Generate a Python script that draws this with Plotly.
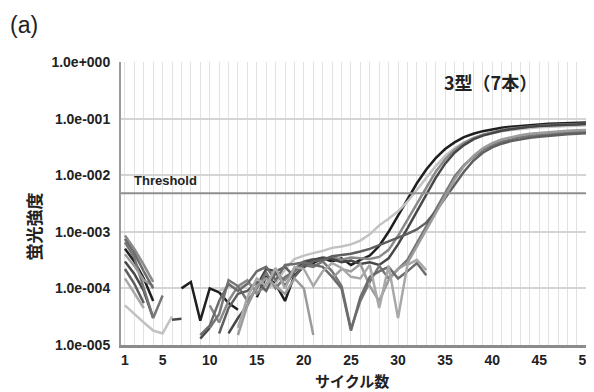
import math
import plotly.graph_objects as go

N = None
cycles = list(range(1, 51))

# fluorescence values per tube (None = value not shown on log scale)
tube_a = [5.0e-4, 3.0e-4, 1.5e-4, 6e-5, N, N, 1.0e-4, 1.3e-4, 2.7e-5, 1.0e-4,
          8.5e-5, 5.5e-5, 4.2e-5, N, 7e-5, 1.6e-4, 1.2e-4, 6e-5, 1.7e-4, 2.4e-4,
          2.8e-4, 3.4e-4, 3.0e-4, 3.4e-4, 2.6e-4, 3.2e-4, 3.8e-4, 5.6e-4, 1.0e-3, 1.9e-3,
          3.7e-3, 7.2e-3, 0.0126, 0.020, 0.029, 0.038, 0.047, 0.054, 0.060, 0.065,
          0.069, 0.072, 0.075, 0.0776, 0.079, 0.081, 0.082, 0.083, 0.084, 0.085]
tube_b = [5e-5, 3.5e-5, 2.5e-5, 1.8e-5, 1.6e-5, 3.2e-5, N, N, N, N,
          9e-5, 1.1e-4, 1.0e-4, 1.3e-4, 9e-5, 1.0e-4, 1.2e-4, 2.2e-4, 3.3e-4, 3.8e-4,
          4.2e-4, 4.6e-4, 5.2e-4, 5.5e-4, 6e-4, 7e-4, 9e-4, 1.3e-3, 1.7e-3, 2.3e-3,
          3.4e-3, 5.5e-3, 9e-3, 0.0145, 0.022, 0.030, 0.038, 0.045, 0.051, 0.056,
          0.060, 0.063, 0.066, 0.068, 0.070, 0.072, 0.073, 0.074, 0.075, 0.076]
tube_c = [8.6e-4, 5e-4, 2.6e-4, 1.3e-4, N, N, N, N, N, 5e-5,
          2.5e-5, 6e-5, 1.1e-4, 1.4e-4, 8e-5, 1.2e-4, 1.8e-4, 1.4e-4, 2.2e-4, 3.0e-4,
          3.3e-4, 3.1e-4, 3.6e-4, 3.2e-4, 3.5e-4, 3.4e-4, 3.3e-4, 3.6e-4, 4.8e-4, 8.5e-4,
          1.65e-3, 3.2e-3, 6.2e-3, 0.0115, 0.019, 0.028, 0.037, 0.045, 0.052, 0.058,
          0.063, 0.067, 0.070, 0.073, 0.075, 0.077, 0.078, 0.079, 0.080, 0.081]
tube_d = [3.0e-4, 1.8e-4, 9e-5, 3e-5, N, 2.8e-5, 2.9e-5, N, 1.3e-5, 2.0e-5,
          N, 1.6e-5, 3e-5, 5e-5, 1.1e-4, 2.2e-4, 2.0e-4, 1.1e-4, 2.0e-4, 2.9e-4,
          3.2e-4, 3.5e-4, 3.3e-4, 2.9e-4, 3.1e-4, 2.7e-4, 2.9e-4, 2.6e-4, 3.4e-4, 6e-4,
          1.15e-3, 2.3e-3, 4.6e-3, 9e-3, 0.016, 0.025, 0.034, 0.043, 0.050, 0.056,
          0.061, 0.065, 0.069, 0.072, 0.074, 0.076, 0.077, 0.078, 0.079, 0.080]
tube_e = [6.5e-4, 3.5e-4, 1.0e-4, 3.0e-5, 7.5e-5, N, N, N, N, 2.0e-5,
          3.5e-5, 1.4e-4, 1.1e-4, 6e-5, 1.0e-4, 1.9e-4, 1.0e-4, 1.6e-4, 2.0e-4, 2.6e-4,
          2.4e-4, 3.0e-4, 2.0e-4, 1.1e-4, 1.9e-5, 6e-5, 1.3e-4, 2.5e-4, 1.5e-4, 2.2e-4,
          3.2e-4, 6.3e-4, 1.26e-3, 2.5e-3, 5e-3, 9.5e-3, 0.015, 0.021, 0.028, 0.034,
          0.039, 0.043, 0.047, 0.050, 0.052, 0.054, 0.056, 0.057, 0.058, 0.059]
tube_f = [2.2e-4, 1.2e-4, 5.5e-5, N, N, N, N, N, N, N,
          1.6e-5, 4.5e-5, 8e-5, 9e-5, 1.3e-4, 9e-5, 2.0e-4, 2.4e-4, 1.6e-4, 2.5e-4,
          3.0e-4, 3.2e-4, 3.7e-4, 3.9e-4, 4.1e-4, 4.5e-4, 5.0e-4, 5.8e-4, 6.7e-4, 7.8e-4,
          9.2e-4, 1.1e-3, 1.45e-3, 2.3e-3, 3.9e-3, 6.8e-3, 0.0115, 0.018, 0.025, 0.031,
          0.036, 0.040, 0.043, 0.046, 0.048, 0.050, 0.052, 0.053, 0.054, 0.055]
tube_g = [4e-4, 2.5e-4, 1.4e-4, 1.1e-4, N, N, N, N, N, N,
          N, N, 1.5e-5, 5e-5, 1.1e-4, 1.5e-4, 1.1e-4, 8e-5, 1.5e-4, 1.0e-4,
          1.5e-5, N, 1.5e-4, 2.2e-4, 2.0e-4, 2.7e-4, 1.1e-4, 6e-5, 1.4e-4, 2.2e-4,
          2.8e-4, 5.5e-4, 1.1e-3, 2.2e-3, 4.3e-3, 8.3e-3, 0.0145, 0.022, 0.030, 0.037,
          0.043, 0.047, 0.051, 0.054, 0.056, 0.058, 0.060, 0.061, 0.062, 0.063]
noise_h = [7.5e-4, 4.2e-4, 2.0e-4, 1.0e-4, N, N, N, N, 1.5e-5, 2.2e-5,
           6e-5, 1.2e-4, 9e-5, 1.2e-4, 2.0e-4, 2.4e-4, 1.4e-4, 2.6e-4, 2.7e-4, 2.9e-4,
           2.6e-4, 2.4e-4, 1.6e-4, 1.0e-4, 1.8e-5, 7e-5, 1.6e-4, 2.0e-4, 2.4e-4, 1.5e-4,
           2.0e-4, 2.8e-4, 1.7e-4] + [N] * 17
noise_i = [1.5e-4, 8e-5, 4.5e-5, N, N, N, N, N, N, N,
           N, N, 2e-5, 7e-5, 1.5e-4, 1.1e-4, 2.3e-4, 1.0e-4, 2.4e-4, 2.2e-4,
           1.1e-4, 2.0e-4, 2.8e-4, 2.3e-4, 1.6e-4, 1.5e-4, 2.6e-4, 4.5e-5, 2.5e-4, 3e-5,
           2.6e-4, 3.2e-4, 2.1e-4] + [N] * 17

series = [tube_a, tube_b, tube_c, tube_d, tube_e, tube_f, tube_g, noise_h, noise_i]
colors = ["#1f1f1f", "#c2c2c2", "#8a8a8a", "#474747", "#767676", "#5f5f5f", "#9c9c9c",
          "#6c6c6c", "#a8a8a8"]

threshold = 0.0048
y_tick_vals = [1, 0.1, 0.01, 0.001, 0.0001, 0.00001]
y_tick_text = ["1.0e+000", "1.0e-001", "1.0e-002", "1.0e-003", "1.0e-004", "1.0e-005"]
x_tick_vals = [1, 5, 10, 15, 20, 25, 30, 35, 40, 45, 50]

fig = go.Figure()
for vals, col in zip(series, colors):
    fig.add_trace(go.Scatter(x=cycles, y=vals, mode="lines",
                             line=dict(color=col, width=2.5),
                             connectgaps=False, showlegend=False, hoverinfo="skip"))

fig.add_shape(type="line", xref="paper", x0=0, x1=1, yref="y", y0=threshold, y1=threshold,
              line=dict(color="#8f8f8f", width=2))

font_b = "Liberation Sans, Arial, sans-serif"
cjk = "Noto Sans CJK JP"
fig.add_annotation(text="<b>Threshold</b>", xref="x", yref="y", x=1.75,
                   y=math.log10(threshold),
                   xanchor="left", yanchor="bottom", yshift=3, showarrow=False,
                   font=dict(family=font_b, size=13, color="#222"))
fig.add_annotation(text="<b>3型（7本）</b>", xref="paper", yref="paper", x=0.785, y=0.929,
                   xanchor="center", yanchor="middle", showarrow=False,
                   font=dict(family=cjk, size=18, color="#222"))
fig.add_annotation(text="(a)", xref="paper", yref="paper", x=-0.239, y=1.131,
                   xanchor="left", yanchor="middle", showarrow=False,
                   font=dict(family=font_b, size=23, color="#222"))
fig.add_annotation(text="<b>蛍光強度</b>", xref="paper", yref="paper", x=-0.186, y=0.42,
                   xanchor="center", yanchor="middle", textangle=-90, showarrow=False,
                   font=dict(family=cjk, size=17, color="#222"))
fig.add_annotation(text="<b>サイクル数</b>", xref="paper", yref="paper", x=0.49, y=-0.124,
                   xanchor="center", yanchor="middle", showarrow=False,
                   font=dict(family=cjk, size=15, color="#222"))

fig.update_layout(
    width=586, height=384,
    margin=dict(l=113, r=0, t=54, b=47),
    paper_bgcolor="white", plot_bgcolor="white",
    xaxis=dict(range=[0.58, 50.6], tickmode="array", tickvals=x_tick_vals,
               ticktext=["<b>%d</b>" % v for v in x_tick_vals],
               ticklabeloverflow="allow",
               showgrid=True, gridcolor="#e2e2e2", gridwidth=1,
               minor=dict(dtick=1, tick0=0, showgrid=True, gridcolor="#e2e2e2", gridwidth=1),
               showline=True, linecolor="#8c8c8c", linewidth=3, zeroline=False,
               ticks="", tickfont=dict(family=font_b, size=14, color="#222")),
    yaxis=dict(type="log", range=[-5, 0], tickmode="array", tickvals=y_tick_vals,
               ticktext=["<b>%s</b>" % t for t in y_tick_text],
               showgrid=True, gridcolor="#d4d4d4", gridwidth=1.5,
               showline=True, linecolor="#9a9a9a", linewidth=2, zeroline=False,
               ticks="", ticklabelstandoff=6,
               tickfont=dict(family=font_b, size=14, color="#222")),
)
fig.write_html("out.html")
